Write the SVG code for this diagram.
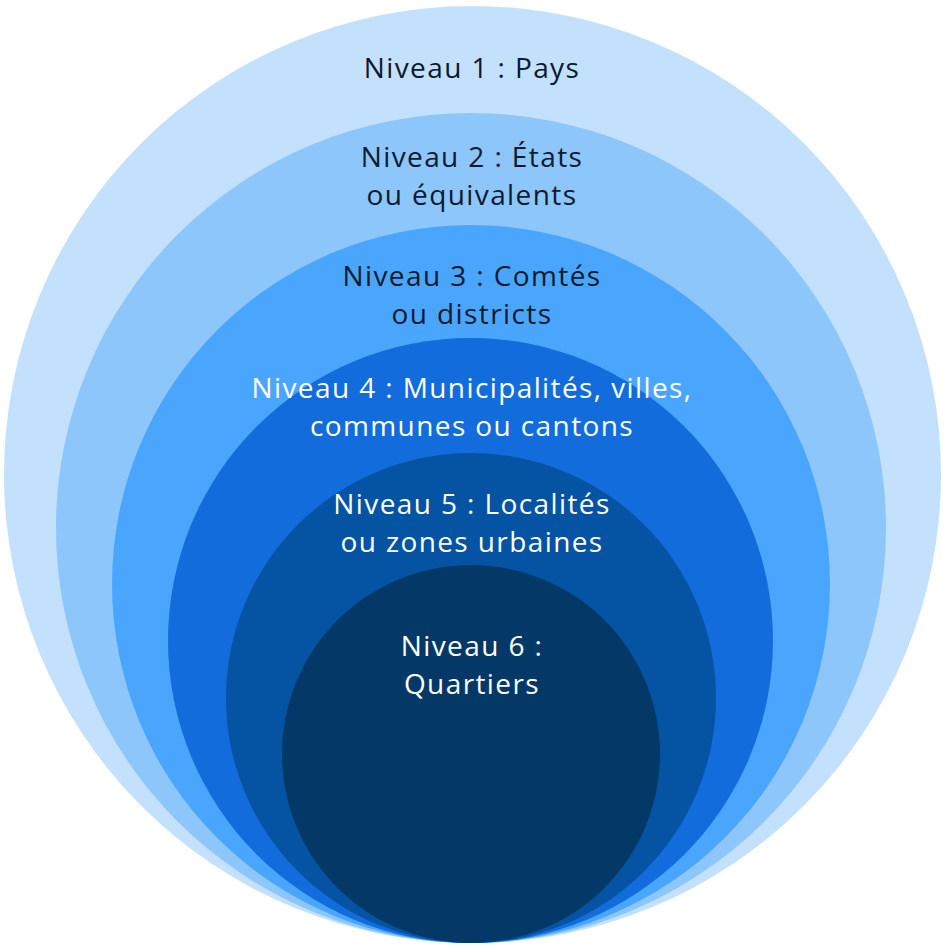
<svg xmlns="http://www.w3.org/2000/svg" width="945" height="945" viewBox="0 0 945 945">
<style>
text{font-family:"Open Sans","Liberation Sans",sans-serif;font-size:28px;letter-spacing:1.4px;text-anchor:middle}
.d{fill:#0b1a2e}.w{fill:#ffffff}
</style>
<rect width="945" height="945" fill="#ffffff"/>
<g id="n1"><circle cx="472.5" cy="474.5" r="468.5" fill="#c3e1fc"/><text class="d" x="472" y="78">Niveau 1 : Pays</text></g>
<g id="n2"><circle cx="471" cy="528" r="415" fill="#8cc6fb"/><text class="d" x="472" y="167">Niveau 2 : États</text><text class="d" x="472" y="205">ou équivalents</text></g>
<g id="n3"><circle cx="471" cy="584" r="359" fill="#4aa6fc"/><text class="d" x="472" y="286">Niveau 3 : Comtés</text><text class="d" x="472" y="324">ou districts</text></g>
<g id="n4"><circle cx="470.5" cy="640.5" r="302.5" fill="#126cdc"/><text class="w" x="472" y="398">Niveau 4 : Municipalités, villes,</text><text class="w" x="472" y="436">communes ou cantons</text></g>
<g id="n5"><circle cx="471" cy="698" r="245" fill="#0553a3"/><text class="w" x="472" y="514">Niveau 5 : Localités</text><text class="w" x="472" y="552">ou zones urbaines</text></g>
<g id="n6"><circle cx="471" cy="754" r="189" fill="#043866"/><text class="w" x="472" y="656">Niveau 6 :</text><text class="w" x="472" y="694">Quartiers</text></g>
<g id="connectors"/>
</svg>
